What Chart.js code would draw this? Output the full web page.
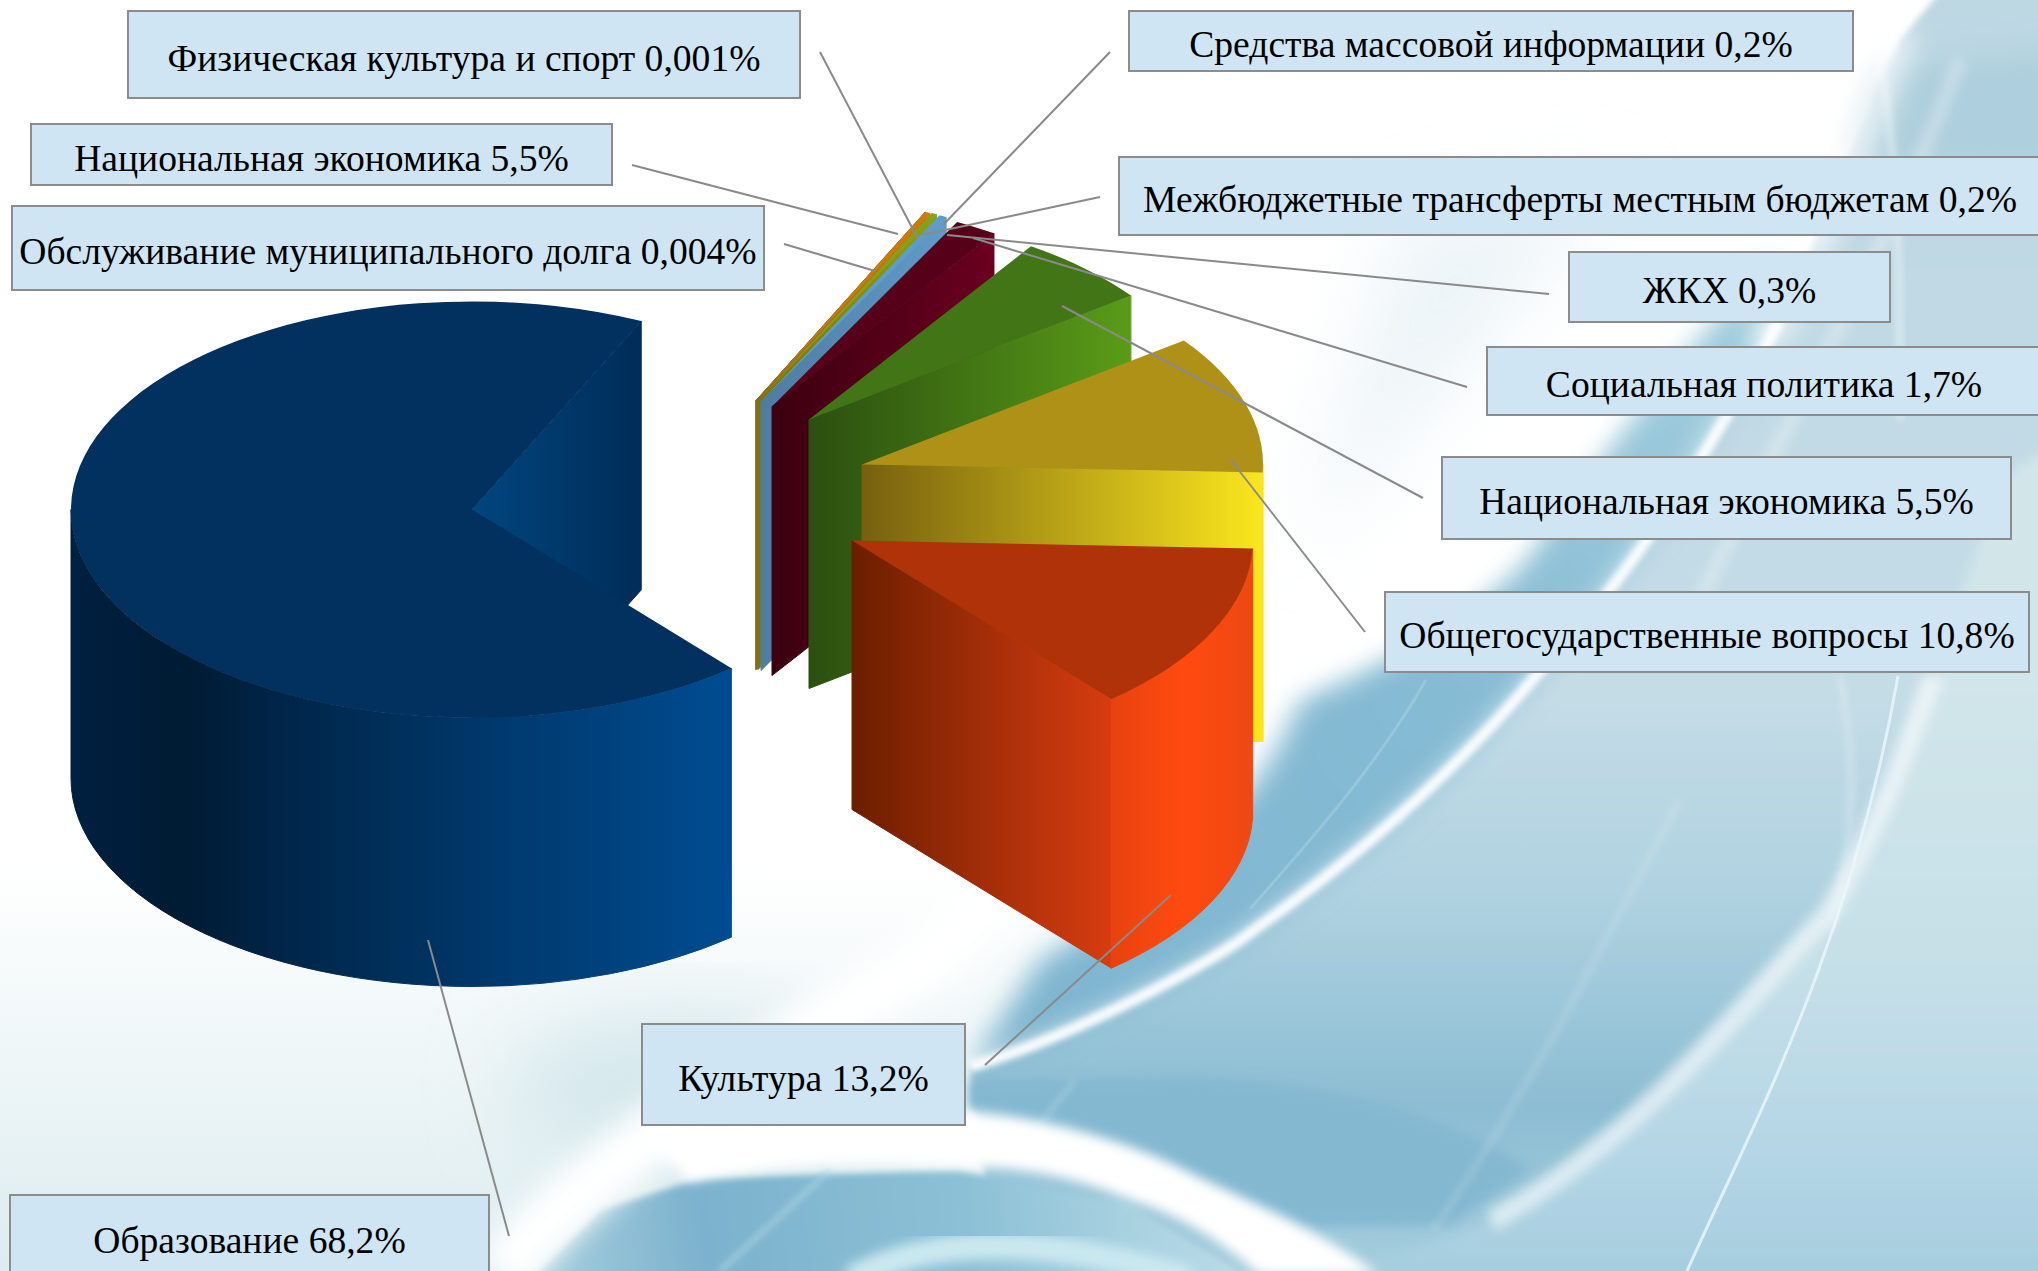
<!DOCTYPE html>
<html lang="ru">
<head>
<meta charset="utf-8">
<title>Расходы бюджета</title>
<script src="https://cdn.jsdelivr.net/npm/chart.js@4"></script>
<style>
  html, body { margin: 0; padding: 0; background: #fff; }
  #page { position: relative; width: 2038px; height: 1271px; overflow: hidden; }
  #bg, #pie { position: absolute; left: 0; top: 0; }
  .callout {
    position: absolute; box-sizing: border-box; display: flex; padding-top: 7px;
    align-items: center; justify-content: center; white-space: nowrap;
    background: #cfe5f3; border: 2px solid #8c8c8c; color: #000;
    font-family: "Liberation Serif", serif; font-size: 37.6px;
  }
</style>
</head>
<body>
<div id="page">
  <svg id="bg" width="2038" height="1271" viewBox="0 0 2038 1271">
    <defs>
      <filter id="b40" x="-30%" y="-30%" width="160%" height="160%"><feGaussianBlur stdDeviation="40"/></filter>
      <filter id="b14" x="-30%" y="-30%" width="160%" height="160%"><feGaussianBlur stdDeviation="14"/></filter>
      <filter id="b6" x="-30%" y="-30%" width="160%" height="160%"><feGaussianBlur stdDeviation="6"/></filter>
      <filter id="b3" x="-30%" y="-30%" width="160%" height="160%"><feGaussianBlur stdDeviation="3"/></filter>
      <linearGradient id="leftFade" x1="0" y1="0" x2="0" y2="1">
        <stop offset="0" stop-color="#ffffff"/><stop offset="0.68" stop-color="#ffffff"/>
        <stop offset="1" stop-color="#dcecef"/>
      </linearGradient>
      <linearGradient id="paleBlock" gradientUnits="userSpaceOnUse" x1="0" y1="0" x2="0" y2="1271">
        <stop offset="0" stop-color="#bdd7e3"/><stop offset="0.55" stop-color="#c4dce6"/>
        <stop offset="0.7" stop-color="#b0d2e1"/><stop offset="0.87" stop-color="#8cbdd3"/>
        <stop offset="1" stop-color="#a5cddd"/>
      </linearGradient>
      <linearGradient id="farBlock" gradientUnits="userSpaceOnUse" x1="0" y1="650" x2="0" y2="1271">
        <stop offset="0" stop-color="#d2e6ea"/><stop offset="0.5" stop-color="#c6e0e8"/>
        <stop offset="0.8" stop-color="#b5d6e6"/><stop offset="1" stop-color="#a6cedf"/>
      </linearGradient>
      <linearGradient id="wedge" gradientUnits="userSpaceOnUse" x1="1000" y1="1050" x2="1700" y2="400">
        <stop offset="0" stop-color="#7fb5d0"/><stop offset="0.6" stop-color="#86bbd4"/>
        <stop offset="1" stop-color="#9dcadc"/>
      </linearGradient>
      <linearGradient id="lowBlue" gradientUnits="userSpaceOnUse" x1="520" y1="1271" x2="1260" y2="1180">
        <stop offset="0" stop-color="#a9d0df"/><stop offset="0.25" stop-color="#7cb2cd"/>
        <stop offset="0.6" stop-color="#8cc0d6"/><stop offset="1" stop-color="#bfdfe9"/>
      </linearGradient>
    </defs>
    <rect width="2038" height="1271" fill="url(#leftFade)"/>
    <ellipse cx="680" cy="1090" rx="170" ry="80" fill="#d6e8ec" filter="url(#b40)"/>
    <path d="M1300 560 L1620 180 L1400 220 Z" fill="#dfecf2" opacity="0.6" filter="url(#b40)"/>
    <!-- pale block right of the main curve -->
    <path d="M970 1067 C1074 1037 1217 960 1250 933 C1350 863 1451 777 1536 676 C1629 580 1714 446 1780 320 L1900 40 L1950 -20 L2060 -20 L2060 1290 L1000 1290 Z" fill="url(#paleBlock)" filter="url(#b3)"/>
    <path d="M1300 1290 L1491 1221 C1652 1128 1752 991 1828 913 C1880 820 1903 757 1933 676 L2000 480 L2060 440 L2060 1290 Z" fill="url(#farBlock)" filter="url(#b6)"/>
    <path d="M1880 70 L2060 50 L2060 170 L1850 160 Z" fill="#aecfdd" filter="url(#b14)"/>
    <!-- dark wedge left of the main curve -->
    <path d="M970 1067 C1074 1037 1217 960 1250 933 C1350 863 1451 777 1536 676 C1629 580 1714 446 1790 300 L1770 260 C1700 335 1610 440 1520 567 C1450 630 1380 665 1300 700 C1260 800 1180 880 1040 960 Z" fill="url(#wedge)" filter="url(#b14)"/>
    <path d="M968 1080 L1200 1078 C1300 1080 1450 1110 1530 1170 L1450 1225 L1304 1227 L1189 1173 L1074 1130 L968 1112 Z" fill="#84b8d1" filter="url(#b6)"/>
    <!-- lower blue pool -->
    <path d="M520 1290 L600 1210 L700 1178 L960 1170 L1130 1205 L1270 1290 Z" fill="url(#lowBlue)" filter="url(#b3)"/>
    <path d="M850 1280 C930 1235 1050 1235 1190 1280" fill="none" stroke="#cbe8f0" stroke-width="26" filter="url(#b6)"/>
    <path d="M720 1271 L830 1170" fill="none" stroke="#a7d2e2" stroke-width="6" opacity="0.7" filter="url(#b3)"/>
    <path d="M1035 1130 L1075 1080" fill="none" stroke="#a7d2e2" stroke-width="4" opacity="0.7" filter="url(#b3)"/>
    <!-- white bands -->
    <path d="M500 1275 C560 1200 650 1130 844 1010 L930 960 C1040 850 1130 760 1260 660 C1370 620 1430 590 1490 530 C1540 460 1610 360 1670 280 C1740 180 1790 90 1830 -10" fill="none" stroke="#fff" stroke-width="58" filter="url(#b14)"/>
    <path d="M640 1130 C760 1115 900 1105 968 1112 C1030 1115 1130 1140 1189 1173 C1240 1198 1330 1235 1378 1275 L1260 1275 C1220 1240 1180 1215 1131 1200 C1070 1175 1020 1167 959 1167 C880 1160 780 1162 690 1182 Z" fill="#fff" filter="url(#b6)"/>
    <path d="M970 1067 C1074 1037 1217 960 1250 933 C1350 863 1451 777 1536 676 C1629 580 1714 446 1780 320" fill="none" stroke="#fff" stroke-width="11" opacity="0.95" filter="url(#b3)"/>
    <path d="M1760 350 C1810 260 1870 130 1900 30" fill="none" stroke="#fff" stroke-width="30" opacity="0.75" filter="url(#b14)"/>
    <path d="M1491 1221 C1652 1128 1752 991 1828 913 C1880 820 1903 757 1933 676" fill="none" stroke="#fff" stroke-width="20" opacity="0.6" filter="url(#b6)"/>
    <path d="M1687 1271 C1750 1130 1850 950 1898 676" fill="none" stroke="#eaf6fa" stroke-width="3" opacity="0.85"/>
    <path d="M1250 909 C1320 830 1380 760 1426 680" fill="none" stroke="#a9d3e3" stroke-width="3" opacity="0.5"/>
    <path d="M1433 1230 C1530 1090 1600 950 1680 800" fill="none" stroke="#fff" stroke-width="8" opacity="0.12" filter="url(#b3)"/>
    <path d="M1830 930 C1850 860 1860 780 1840 676" fill="none" stroke="#fff" stroke-width="8" opacity="0.2" filter="url(#b3)"/>
    <path d="M1900 420 C1900 300 1900 170 1880 60" fill="none" stroke="#fff" stroke-width="8" opacity="0.35" filter="url(#b3)"/>
    <path d="M1700 600 C1780 430 1890 250 1960 60" fill="none" stroke="#fff" stroke-width="14" opacity="0.3" filter="url(#b6)"/>
  </svg>
  <canvas id="pie" width="2038" height="1271"></canvas>
</div>
<script>
const categories = [
    'Образование',
    'Физическая культура и спорт',
    'Обслуживание муниципального долга',
    'Национальная экономика',
    'Средства массовой информации',
    'Межбюджетные трансферты местным бюджетам',
    'ЖКХ',
    'Социальная политика',
    'Национальная экономика',
    'Общегосударственные вопросы',
    'Культура'
];
// what each callout prints
const printedValues = ['68,2%', '0,001%', '0,004%', '5,5%', '0,2%', '0,2%', '0,3%', '1,7%', '5,5%', '10,8%', '13,2%'];
// size of each slice. The first "5,5%" callout points at a sliver in the picture, it has no visible slice.
const sliceValues = [68.2, 0.001, 0.004, 0, 0.2, 0.2, 0.3, 1.7, 5.5, 10.8, 13.2];

// Styling
const topColors = ['#02305f', '#c47a10', '#c47a10', '#c47a10', '#c87c10', '#8aa012', '#5f9ccb', '#57001a', '#417516', '#b09118', '#b03208'];
const frontColors = [
    ['#00467f', '#002c58'],
    ['#7a5a20', '#c47a10'], ['#7a5a20', '#c47a10'], ['#7a5a20', '#c47a10'],
    ['#8a6a20', '#c87c10'], ['#7d7410', '#8aa012'], ['#4d7ca0', '#5f9ccb'],
    ['#3c0010', '#6a0020'], ['#2b4f10', '#5a9c18'], ['#77600f', '#fbe61e'], ['#6b1e00', '#d83c10']
];
const outerColors = [
    ['#002040', '#001b33', '#00264a', '#00305c', '#003a70', '#00437f', '#004c92'],
    null, null, null, null, null, null,
    ['#6a0020', '#6a0020'], ['#5a9c18', '#5a9c18'], ['#fde020', '#fde020'],
    ['#e8420f', '#ff4a10', '#ee4813']
];

// Layout of the exploded pie, in page pixels
const pieRadius = 401;
const squash = 0.5187;
const depth = 269;
const firstSliceRotation = 139.7;
const sliceShift = [[0, 0], [284, -109], [284, -109], [284, -109], [284, -109], [286, -109], [289, -108], [300, -103], [337, -90], [390, -45], [380, 31]];

// left, top, right, bottom of each callout box
const calloutBoxes = [
    [9, 1194, 490, 1280], [127, 10, 801, 99], [11, 205, 765, 291], [30, 123, 613, 186],
    [1128, 10, 1854, 72], [1118, 156, 2042, 236], [1568, 251, 1891, 323], [1486, 346, 2042, 416],
    [1441, 456, 2012, 540], [1384, 591, 2030, 673], [641, 1023, 966, 1126]
];
// leader lines: from callout to slice
const leaderLines = [
    [509, 1236, 428, 940], [820, 52, 918, 239], [784, 244, 875, 271], [632, 165, 898, 234],
    [1110, 52, 943, 225], [1100, 197, 922, 235], [1549, 294, 947, 235], [1467, 387, 973, 238],
    [1423, 498, 1062, 306], [1365, 632, 1230, 459], [985, 1065, 1171, 895]
];

function wallGradient(ctx, x0, x1, colors) {
    const g = ctx.createLinearGradient(x0, 0, x1, 0);
    colors.forEach((c, k) => g.addColorStop(k / (colors.length - 1), c));
    return g;
}

function fillWall(ctx, style) {
    ctx.fillStyle = style;
    ctx.strokeStyle = style;
    ctx.lineWidth = 1;
    ctx.fill();
    ctx.stroke(); // hides the seam between neighbouring faces
}

function drawWalls(ctx, arc, i) {
    const x = arc.x + sliceShift[i][0];
    const y = arc.y + sliceShift[i][1];
    const r = arc.outerRadius;
    const a = arc.startAngle;
    const b = arc.endAngle;

    // cut face along the end angle
    if (Math.cos(b) > 0) {
        const ex = x + r * Math.cos(b);
        const ey = y + r * squash * Math.sin(b);
        ctx.beginPath();
        ctx.moveTo(x, y);
        ctx.lineTo(ex, ey);
        ctx.lineTo(ex, ey + depth);
        ctx.lineTo(x, y + depth);
        ctx.closePath();
        fillWall(ctx, wallGradient(ctx, x, ex, frontColors[i]));
    }

    // rim, only the part that faces the viewer
    if (!outerColors[i]) return;
    for (let k = -1; k <= 1; k++) {
        const from = Math.max(a, k * 2 * Math.PI);
        const to = Math.min(b, k * 2 * Math.PI + Math.PI);
        if (to <= from) continue;
        const xs = [Math.cos(from), Math.cos(to)];
        ctx.beginPath();
        ctx.ellipse(x, y, r, r * squash, 0, from, to);
        ctx.ellipse(x, y + depth, r, r * squash, 0, to, from, true);
        ctx.closePath();
        fillWall(ctx, wallGradient(ctx, x + r * Math.min(...xs), x + r * Math.max(...xs), outerColors[i]));
    }
}

class Pie3dController extends Chart.PieController {
    draw() {
        const ctx = this.chart.ctx;
        const area = this.chart.chartArea;
        this._cachedMeta.data.forEach((arc, i) => {
            if (!arc.circumference) return;
            drawWalls(ctx, arc, i);
            // top face is the normal Chart.js arc, moved and squashed
            ctx.save();
            ctx.translate(arc.x + sliceShift[i][0], arc.y + sliceShift[i][1]);
            ctx.scale(1, squash);
            ctx.translate(-arc.x, -arc.y);
            arc.draw(ctx, area);
            ctx.restore();
        });
    }
}
Pie3dController.id = 'pie3d';
Chart.register(Pie3dController);

const leaderPlugin = {
    id: 'leaders',
    afterDatasetsDraw(chart) {
        const ctx = chart.ctx;
        ctx.save();
        ctx.strokeStyle = '#8a8a8a';
        ctx.lineWidth = 2;
        leaderLines.forEach(l => {
            ctx.beginPath();
            ctx.moveTo(l[0], l[1]);
            ctx.lineTo(l[2], l[3]);
            ctx.stroke();
        });
        ctx.restore();
    }
};

new Chart(document.getElementById('pie'), {
    type: 'pie3d',
    data: {
        labels: categories,
        datasets: [{
            data: sliceValues,
            backgroundColor: topColors,
            borderWidth: 0,
            radius: pieRadius,
            clip: false
        }]
    },
    options: {
        responsive: false,
        animation: false,
        rotation: firstSliceRotation,
        layout: { padding: { left: 0, top: 0, right: 2038 - 944, bottom: 1271 - 1019 } },
        plugins: { legend: { display: false }, tooltip: { enabled: false } }
    },
    plugins: [leaderPlugin]
});

// callouts
const page = document.getElementById('page');
categories.forEach((name, i) => {
    const box = calloutBoxes[i];
    const div = document.createElement('div');
    div.className = 'callout';
    div.style.left = box[0] + 'px';
    div.style.top = box[1] + 'px';
    div.style.width = (box[2] - box[0]) + 'px';
    div.style.height = (box[3] - box[1]) + 'px';
    div.textContent = name + ' ' + printedValues[i];
    page.appendChild(div);
});
</script>
</body>
</html>
